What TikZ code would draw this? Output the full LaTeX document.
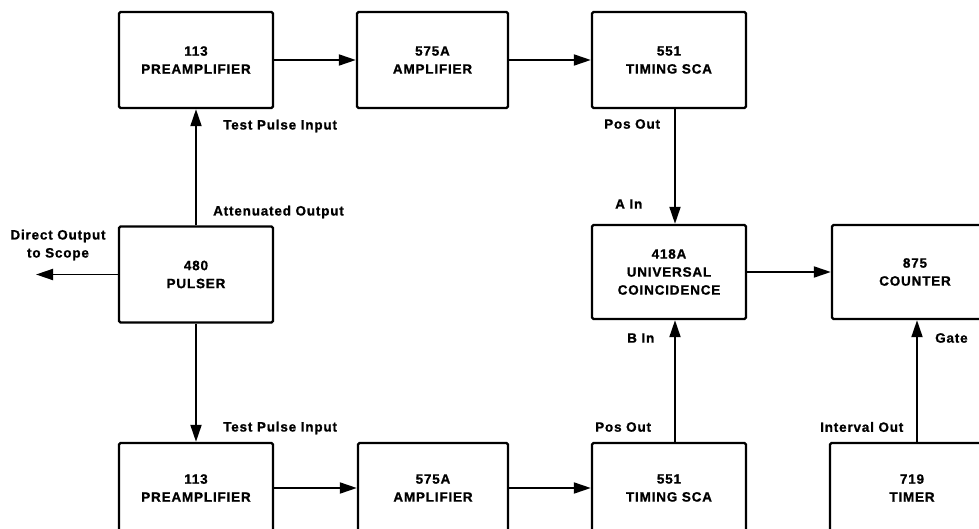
\documentclass[tikz,border=0pt]{standalone}
\usepackage{fontspec}
\setmainfont{Liberation Sans}[LetterSpace=6, BoldFeatures={FakeBold=1}]
\usetikzlibrary{arrows.meta}
\begin{document}
\begin{tikzpicture}[x=1pt,y=-1pt,
  box/.style={draw, line width=2.4pt, rounded corners=1.5pt, minimum width=154pt,
    minimum height=96pt, align=center, inner sep=0pt,
    font=\fontsize{13.5}{18}\selectfont\bfseries},
  lab/.style={anchor=west, inner sep=0pt, align=center,
    font=\fontsize{13.5}{18}\selectfont\bfseries},
  arr/.style={line width=1.9pt, -{Triangle[length=17pt,width=11pt]}}]
\useasboundingbox (0,0) rectangle (979,529);
\clip (0,0) rectangle (979,529);
% boxes
\node[box] (pre1) at (196,60) {113\\PREAMPLIFIER};
\node[box, minimum width=151pt] (amp1) at (432.5,60) {575A\\AMPLIFIER};
\node[box] (sca1) at (669,60) {551\\TIMING SCA};
\node[box] (pulser) at (196,274.5) {480\\PULSER};
\node[box, minimum height=94pt] (coinc) at (669,272) {418A\\UNIVERSAL\\COINCIDENCE};
\node[box, minimum width=166pt, minimum height=94pt] (counter) at (915,272) {875\\COUNTER};
\node[box, minimum height=90pt] (pre2) at (196,488) {113\\PREAMPLIFIER};
\node[box, minimum width=150pt, minimum height=90pt] (amp2) at (433,488) {575A\\AMPLIFIER};
\node[box, minimum height=90pt] (sca2) at (669,488) {551\\TIMING SCA};
\node[box, minimum width=164pt, minimum height=90pt] (timer) at (912,488) {719\\TIMER};
% helper coordinates
\coordinate (ca) at (675,0);
\coordinate (cg) at (917,0);
\coordinate (scope) at (36,274.5);
% connectors
\draw[arr] (pre1) -- (amp1);
\draw[arr] (amp1) -- (sca1);
\draw[arr] (pre2) -- (amp2);
\draw[arr] (amp2) -- (sca2);
\draw[arr] (pulser) -- (pre1);
\draw[arr] (pulser) -- (pre2);
\draw[arr] (pulser.west) -- (scope);
\draw[arr] (ca |- sca1.south) -- (ca |- coinc.north);
\draw[arr] (ca |- sca2.north) -- (ca |- coinc.south);
\draw[arr] (cg |- timer.north) -- (cg |- counter.south);
\draw[arr] (coinc) -- (counter);
% labels
\node[lab] (l1) at (223,126) {Test Pulse Input};
\node[lab] (l2) at (604,124) {Pos Out};
\node[lab] (l3) at (213,212) {Attenuated Output};
\node[lab, anchor=center] (l4) at (58,245) {Direct Output\\to Scope};
\node[lab] (l5) at (615,204) {A In};
\node[lab] (l6) at (627,338) {B In};
\node[lab] (l7) at (935,338) {Gate};
\node[lab] (l8) at (223,428) {Test Pulse Input};
\node[lab] (l9) at (595,427) {Pos Out};
\node[lab] (l10) at (820,427) {Interval Out};
\end{tikzpicture}
\end{document}
